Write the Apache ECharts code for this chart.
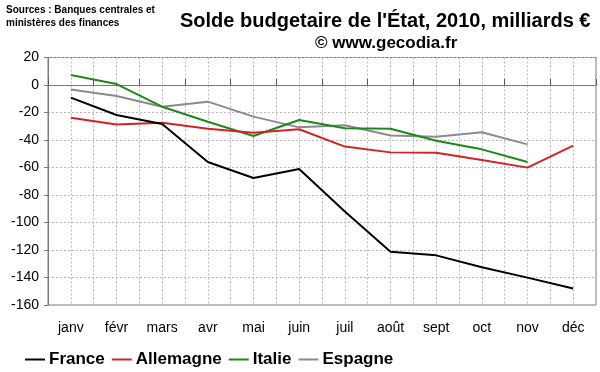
<!DOCTYPE html>
<html>
<head>
<meta charset="utf-8">
<script src="https://cdn.jsdelivr.net/npm/echarts@6/dist/echarts.min.js"></script>
<style>html,body{margin:0;padding:0;background:#fff;}#c{width:600px;height:372px;}</style>
</head>
<body>
<div id="c"></div>
<script>
var categories = ['janv','févr','mars','avr','mai','juin','juil','août','sept','oct','nov','déc'];
var france    = [-9.2,-21.8,-28.4,-56,-67.6,-61.1,-92,-121.2,-123.9,-132.6,-140.1,-148];
var allemagne = [-23.8,-28.8,-27.4,-31.8,-34.7,-32.2,-44.8,-49,-49.2,-54.5,-60.1,-44.1];
var italie    = [7.3,0.7,-15.8,-26.7,-37.1,-25.5,-31.5,-31.8,-40.5,-46.8,-56,null];
var espagne   = [-3.2,-8,-15.8,-12.1,-23,-30.8,-29.3,-36.8,-37.6,-34.4,-43.2,null];
var seriesNames = ['France','Allemagne','Italie','Espagne'];
var titleText = "Solde budgetaire de l'État, 2010, milliards €";
var subtitleText = '© www.gecodia.fr';
var sourceText = 'Sources : Banques centrales et\nministères des finances';

var FONT = '"Liberation Sans", Arial, sans-serif';
var chart = echarts.init(document.getElementById('c'), null, {renderer:'canvas'});
var colors = ['#000000','#d02424','#1b8a1b','#8a8a8a'];
var dataSets = [france, allemagne, italie, espagne];

chart.setOption({
  backgroundColor: '#fff',
  animation: false,
  color: colors,
  title: [
    {text: titleText, left: 180, top: 11, padding: 0,
     textStyle: {fontFamily: FONT, fontSize: 20, fontWeight: 'bold', color: '#000'}},
    {text: subtitleText, left: 315, top: 35, padding: 0,
     textStyle: {fontFamily: FONT, fontSize: 17, fontWeight: 'bold', color: '#000'}},
    {text: sourceText, left: 6, top: 4, padding: 0,
     textStyle: {fontFamily: FONT, fontSize: 10, fontWeight: 'bold', color: '#000', lineHeight: 13}}
  ],
  legend: {
    left: 25, top: 351, itemWidth: 20, itemHeight: 2, itemGap: 7, icon: 'rect', padding: 0,
    textStyle: {fontFamily: FONT, fontSize: 17, fontWeight: 'bold', color: '#000', padding: [0,0,0,-1]},
    data: seriesNames
  },
  grid: {left: 48, right: 4, top: 57.5, bottom: 67, show: true, borderColor: '#7a7a7a', borderWidth: 1},
  xAxis: [
    {type: 'category', data: categories, boundaryGap: true,
     axisLine: {show: true, onZero: true, lineStyle: {color: '#7a7a7a', width: 1}},
     axisTick: {show: true, inside: true, length: 6, lineStyle: {color: '#555'}},
     axisLabel: {show: false}, splitLine: {show: false}},
    {type: 'category', data: categories, position: 'bottom', boundaryGap: true,
     axisLine: {show: false, onZero: false}, axisTick: {show: false},
     axisLabel: {fontFamily: FONT, fontSize: 14, color: '#000', margin: 16}},
    {type: 'value', min: 0, max: 24, interval: 1, show: true,
     axisLine: {show: false, onZero: false}, axisTick: {show: false}, axisLabel: {show: false},
     splitLine: {show: true, lineStyle: {color: '#b8b8b8', type: [2,2], width: 1}}}
  ],
  yAxis: {
    type: 'value', min: -160, max: 20, interval: 20,
    axisLine: {show: true, lineStyle: {color: '#7a7a7a'}},
    axisTick: {show: true, length: 4, lineStyle: {color: '#7a7a7a'}},
    axisLabel: {fontFamily: FONT, fontSize: 14, color: '#000', margin: 9},
    splitLine: {show: true, lineStyle: {color: '#b8b8b8', type: [2,2], width: 1}}
  },
  series: seriesNames.map(function(n, i){
    return {name: n, type: 'line', xAxisIndex: 0, data: dataSets[i], symbol: 'none',
            lineStyle: {width: 2, color: colors[i]}, itemStyle: {color: colors[i]}, z: 10 - i};
  })
});
</script>
</body>
</html>
